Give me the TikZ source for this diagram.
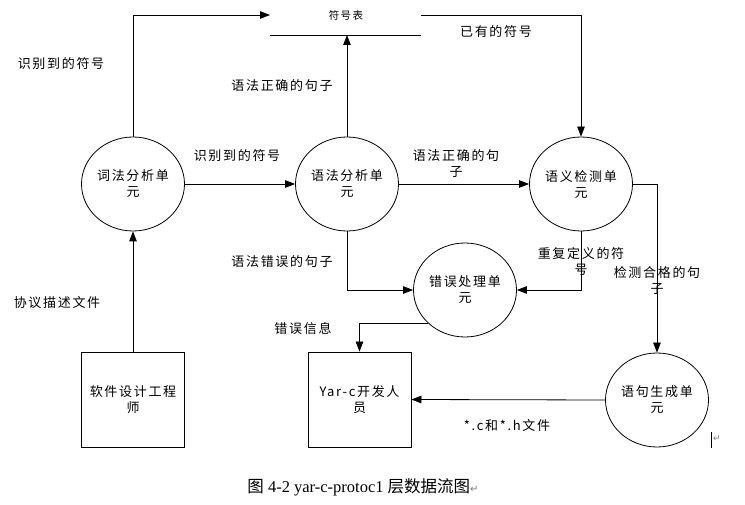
\documentclass[tikz,border=0pt]{standalone}
\usepackage{fontspec}
\usepackage{xcolor}
\setmainfont{Liberation Serif}
\newfontfamily\cjk[LetterSpace=13]{Noto Sans CJK SC}
\newfontfamily\cjkcap{Noto Sans CJK SC}
\newfontfamily\symfont{DejaVu Sans}
\usetikzlibrary{arrows.meta,shapes.geometric}

\tikzset{
  unit/.style={ellipse, draw, line width=0.8pt, minimum width=103pt, minimum height=94pt,
    inner sep=0pt, align=center, font=\cjk\fontsize{13}{16}\selectfont},
  ext/.style={rectangle, draw, line width=0.8pt, minimum width=103pt, minimum height=95pt,
    inner sep=0pt, align=center, font=\cjk\fontsize{13}{16}\selectfont},
  lbl/.style={inner sep=0pt, align=center, font=\cjk\fontsize{13}{16}\selectfont},
  flow/.style={line width=0.8pt, -{Triangle[length=10pt,width=7.5pt]}}
}

\begin{document}
\begin{tikzpicture}[x=1pt,y=-1pt]

\useasboundingbox (0,0) rectangle (745,505);

% 符号表
\node[inner sep=0pt, font=\cjk\fontsize{10.5}{12}\selectfont] (fhb) at (346,15) {符号表};
\coordinate (tabin) at (270,15);
\coordinate (tabout) at (421,15);
\coordinate (tabl) at (270,35);
\coordinate (tabr) at (421,35);
\draw[line width=0.8pt] (tabl) -- (tabr);

% 处理单元
\node[unit] (cf) at (133,184) {词法分析单\\元};
\node[unit] (yf) at (347,184) {语法分析单\\元};
\node[unit] (yy) at (581,184) {语义检测单\\元};
\node[unit] (cw) at (465,290) {错误处理单\\元};
\node[unit] (sc) at (657,400) {语句生成单\\元};

% 外部实体
\node[ext] (rj) at (133,399.5) {软件设计工程\\师};
\node[ext] (kf) at (359.5,399.5) {Yar-c开发人\\员};

% 数据流
\draw[flow] (cf.north) |- (tabin);
\draw[flow] (cf.east) -- (yf.west);
\draw[flow] (yf.north) -- (yf.north |- tabl);
\draw[flow] (tabout) -| (yy.north);
\draw[flow] (yf.east) -- (yy.west);
\draw[flow] (yf.south) |- (cw.west);
\draw[flow] (yy.south) |- (cw.east);
\draw[flow] (yy.east) -| (sc.north);
\draw[flow] (cw.south west) -| (kf.north);
\draw[flow] (sc.west) -- (kf.east);
\draw[flow] (rj.north) -- (cf.south);

% 数据流名称
\node[lbl] (l1) at (61,64) {识别到的符号};
\node[lbl] (l2) at (237,156) {识别到的符号};
\node[lbl] (l3) at (282,86) {语法正确的句子};
\node[lbl] (l4) at (496,32) {已有的符号};
\node[lbl] (l5) at (456,164) {语法正确的句\\子};
\node[lbl] (l6) at (282,262) {语法错误的句子};
\node[lbl] (l7) at (57,303) {协议描述文件};
\node[lbl] (l8) at (303,329) {错误信息};
\node[lbl] (l9) at (581,262) {重复定义的符\\号};
\node[lbl] (l10) at (657,281) {检测合格的句\\子};
\node[lbl] (l11) at (507,426) {*.c和*.h文件};

% 段落标记
\draw[line width=1pt] (711,432) -- (711,448);
\node[inner sep=0pt, text=gray, font=\symfont\fontsize{9}{10}\selectfont] (pm) at (717,439) {↵};

% 图题
\node[inner sep=0pt, font=\fontsize{16.5}{18}\selectfont] (cap) at (363,487)
  {{\cjkcap 图} 4-2 yar-c-protoc1 {\cjkcap 层数据流图}{\color{gray}\symfont\fontsize{10}{12}\selectfont ↵}};

\end{tikzpicture}
\end{document}
